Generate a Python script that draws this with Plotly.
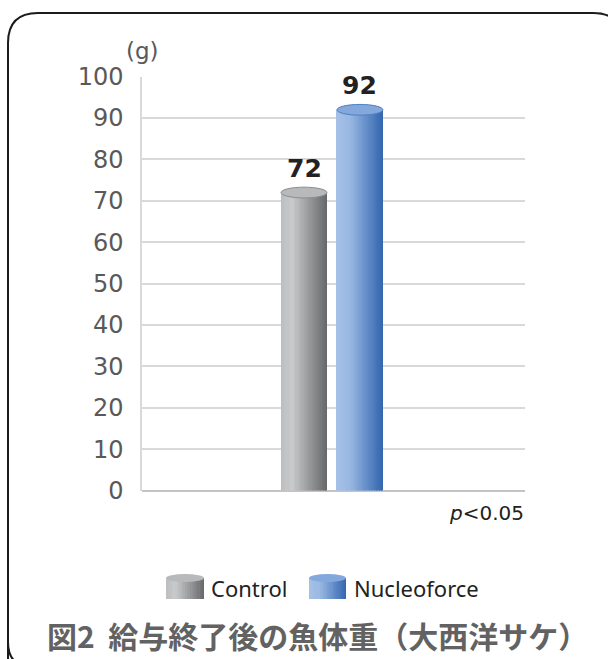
import plotly.graph_objects as go

# ---------------- data ----------------
categories = ["Control", "Nucleoforce"]
values = [72, 92]
y_tick_values = [0, 10, 20, 30, 40, 50, 60, 70, 80, 90, 100]
y_tick_labels = ["0", "10", "20", "30", "40", "50", "60", "70", "80", "90", "100"]
unit_label = "(g)"
p_label = "<i>p</i>&lt;0.05"
title_text = "図2&nbsp;&nbsp;給与終了後の魚体重（大西洋サケ）"

# ---------------- styling ----------------
W, H = 608, 659


def px(x):
    return x / W


def py(y):
    return 1 - y / H


def hex2rgb(h):
    h = h.lstrip("#")
    return tuple(int(h[i:i + 2], 16) for i in (0, 2, 4))


def grad(stops, t):
    for (t0, c0), (t1, c1) in zip(stops[:-1], stops[1:]):
        if t0 <= t <= t1:
            f = (t - t0) / (t1 - t0) if t1 > t0 else 0
            a, b = hex2rgb(c0), hex2rgb(c1)
            r = [round(a[k] + (b[k] - a[k]) * f) for k in range(3)]
            return "rgb({},{},{})".format(*r)
    return stops[-1][1]


gradients = {
    "Control": [(0, "#bcbdbf"), (0.25, "#c9cacc"), (1, "#67686a")],
    "Nucleoforce": [(0, "#a6c1e7"), (0.3, "#98b7e2"), (1, "#3366b0")],
}
cap_fill = {"Control": "#b8b9bb", "Nucleoforce": "#84a8dc"}
cap_line = {"Control": "#8c8d8f", "Nucleoforce": "#4f7fc2"}

bar_width = 0.12
bar_offsets = [-0.137, 0.009]
N = 28

fig = go.Figure()
for cat, val, off in zip(categories, values, bar_offsets):
    for j in range(N):
        t = (j + 0.5) / N
        w = bar_width / N * (1.0 if j == N - 1 else 1.2)
        fig.add_trace(go.Bar(
            x=[0], y=[val], offset=off + j * bar_width / N, width=w,
            marker=dict(color=grad(gradients[cat], t), line=dict(width=0)),
            showlegend=False, hoverinfo="skip", name=cat,
        ))
    # cylinder top cap
    fig.add_shape(type="circle", xref="x", yref="y",
                  x0=off, x1=off + bar_width, y0=val - 1.3, y1=val + 1.3,
                  fillcolor=cap_fill[cat], line=dict(color=cap_line[cat], width=1))
    fig.add_annotation(x=off + bar_width / 2, y=val, xref="x", yref="y",
                       text=f"<b>{val}</b>", showarrow=False, yshift=24,
                       font=dict(family="DejaVu Sans", size=25, color="#222222"))

# ---------------- frame ----------------
frame_path = (
    f"M {px(8)},{py(700)} L {px(8)},{py(642)} Q {px(8)},{py(667)} {px(33)},{py(667)} "
    f"L {px(600)},{py(667)} "
    f"M {px(8)},{py(642)} L {px(8)},{py(43)} Q {px(8)},{py(13)} {px(38)},{py(13)} "
    f"L {px(593)},{py(13)} Q {px(623)},{py(13)} {px(623)},{py(43)} L {px(623)},{py(700)}"
)
fig.add_shape(type="path", xref="paper", yref="paper", path=frame_path,
              line=dict(color="#1c1c1c", width=2), layer="below")

# ---------------- legend (custom cylinders) ----------------
legend_icons = [(166, 204), (309, 346)]
legend_text_x = [209, 352]
M = 16
for cat, (x0, x1), tx in zip(categories, legend_icons, legend_text_x):
    for j in range(M):
        t = (j + 0.5) / M
        a = x0 + (x1 - x0) * j / M
        b = x0 + (x1 - x0) * (j + 1) / M + (0.6 if j < M - 1 else 0)
        fig.add_shape(type="rect", xref="paper", yref="paper",
                      x0=px(a), x1=px(b), y0=py(599), y1=py(578),
                      fillcolor=grad(gradients[cat], t), line=dict(width=0))
    fig.add_shape(type="circle", xref="paper", yref="paper",
                  x0=px(x0), x1=px(x1), y0=py(582), y1=py(574),
                  fillcolor=cap_fill[cat], line=dict(width=0))
    fig.add_annotation(x=px(tx), y=py(588), xref="paper", yref="paper",
                       xanchor="left", yanchor="middle", text=cat, showarrow=False,
                       font=dict(family="Noto Sans", size=22, color="#222222"))

# ---------------- texts ----------------
fig.add_annotation(x=px(124), y=py(51), xref="paper", yref="paper",
                   xanchor="left", yanchor="middle", text=unit_label, showarrow=False,
                   font=dict(family="DejaVu Sans", size=23, color="#595959"))
fig.add_annotation(x=px(526), y=py(513), xref="paper", yref="paper",
                   xanchor="right", yanchor="middle", text=p_label, showarrow=False,
                   font=dict(family="DejaVu Sans", size=20, color="#222222"))
fig.add_annotation(x=px(317), y=py(635), xref="paper", yref="paper",
                   xanchor="center", yanchor="middle", text=title_text, showarrow=False,
                   font=dict(family="Noto Sans CJK JP", size=30, color="#626262", weight="bold"))

fig.update_layout(
    width=W, height=H, autosize=False,
    margin=dict(l=0, r=0, t=0, b=0, pad=0),
    paper_bgcolor="white", plot_bgcolor="white",
    barmode="overlay", bargap=0,
    showlegend=False,
    xaxis=dict(domain=[px(142), px(525)], range=[-0.5, 0.5], showticklabels=False,
               showgrid=False, zeroline=False, showline=False, fixedrange=True,
               automargin=False),
    yaxis=dict(domain=[py(490.5), py(76.7)], range=[0, 100],
               tickmode="array", tickvals=y_tick_values, ticktext=y_tick_labels,
               tickfont=dict(family="DejaVu Sans", size=24, color="#595959"),
               ticklabelstandoff=12, ticks="", ticklen=0,
               showgrid=True, gridcolor="#d9d9d9", gridwidth=1.5,
               showline=True, linecolor="#d9d9d9", linewidth=1.5,
               zeroline=True, zerolinecolor="#c4c4c4", zerolinewidth=1.5,
               fixedrange=True, automargin=False),
)

fig.write_html("out.html", config={"displayModeBar": False},
               post_script="document.body.style.margin='0';document.body.style.overflow='hidden';")
